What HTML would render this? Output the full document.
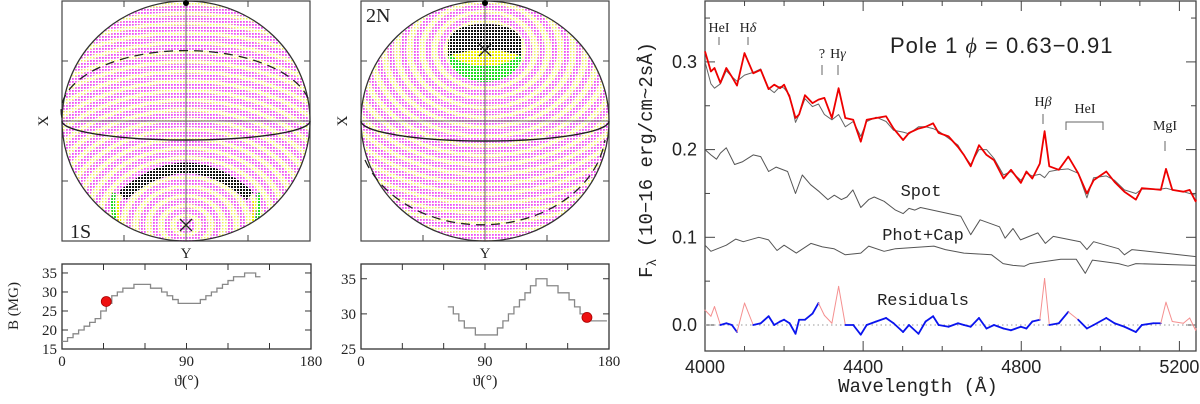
<!DOCTYPE html>
<html><head><meta charset="utf-8"><style>
html,body{margin:0;padding:0;background:#fff;width:1200px;height:404px;overflow:hidden;}
svg{display:block;overflow:hidden;}
text{font-family:"Liberation Serif",serif;fill:#222;}
.sans{font-family:"Liberation Sans",sans-serif;}
.mono{font-family:"Liberation Mono",monospace;}
</style></head><body>
<svg id="fig" width="1200" height="404" viewBox="0 0 1200 404" xmlns="http://www.w3.org/2000/svg">
<defs>
<pattern id="pm" width="3" height="3" patternUnits="userSpaceOnUse"><rect width="1.8" height="1.8" fill="#f050f0"/></pattern>
<pattern id="py" width="3" height="3" patternUnits="userSpaceOnUse"><rect width="1.5" height="1.5" fill="#f0f060"/></pattern>
<pattern id="pk" width="3" height="3" patternUnits="userSpaceOnUse"><rect width="2" height="2" fill="#111"/></pattern>
<pattern id="pg" width="3" height="3" patternUnits="userSpaceOnUse"><rect width="2" height="2" fill="#22dd22"/></pattern>
<pattern id="pyy" width="3" height="3" patternUnits="userSpaceOnUse"><rect width="2" height="2" fill="#eeee00"/></pattern>
<clipPath id="c1"><ellipse cx="186" cy="121" rx="124" ry="120"/></clipPath>
<clipPath id="c2"><ellipse cx="485" cy="121" rx="124" ry="120"/></clipPath>
</defs>
<g id="sph1"></g>
<g id="sph2"></g>
<g id="bplot1"></g>
<g id="bplot2"></g>
<g id="spec"></g>
</svg>
<script>
const NS="http://www.w3.org/2000/svg";
function mk(p,t,a,txt){const e=document.createElementNS(NS,t);for(const k in a)e.setAttribute(k,a[k]);if(txt!==undefined)e.textContent=txt;p.appendChild(e);return e;}

// ---------- field plot data ----------
const theta1=[0,4,8,12,16,20,24,28,32,36,40,44,48,52,56,60,64,68,72,76,80,84,88,92,96,100,104,108,112,116,120,124,128,132,136,140];
const field1=[17,18,19,20,21,22,23,25,27,29,30,31,31,32,32,32,31,31,30,29,28,27,27,27,27,28,29,30,31,32,33,34,34,35,35,34];
const theta2=[63,67,71,75,79,83,87,91,95,99,103,107,111,115,119,123,127,131,135,139,143,147,151,155,159,163,167,171,175];
const field2=[31,30,29,28,28,27,27,27,27,28,29,30,31,32,33,34,35,35,34,34,33,33,32,31,30,29,29,29,29];
const dot1=[32,27.5], dot2=[164,29.5];

// ---------- spectrum data ----------
const wave=[4000,4015,4024,4039,4054,4068,4081,4100,4122,4141,4161,4175,4190,4200,4214,4229,4238,4253,4272,4287,4302,4321,4338,4355,4375,4394,4409,4433,4458,4477,4501,4516,4540,4558,4577,4591,4616,4640,4655,4672,4693,4712,4731,4755,4774,4799,4813,4828,4847,4859,4871,4895,4919,4944,4966,4983,5015,5036,5061,5090,5105,5134,5153,5166,5182,5210,5226,5241,5250];
const observed=[0.312,0.289,0.293,0.276,0.293,0.283,0.273,0.310,0.287,0.291,0.269,0.274,0.270,0.274,0.260,0.236,0.240,0.262,0.253,0.257,0.259,0.236,0.270,0.236,0.234,0.209,0.234,0.236,0.238,0.224,0.211,0.219,0.224,0.226,0.230,0.219,0.215,0.203,0.194,0.181,0.205,0.194,0.188,0.167,0.177,0.162,0.175,0.167,0.184,0.221,0.181,0.177,0.192,0.173,0.150,0.165,0.175,0.163,0.152,0.143,0.156,0.155,0.154,0.178,0.154,0.152,0.154,0.141,0.143];
const model=[0.300,0.275,0.270,0.275,0.290,0.283,0.278,0.285,0.288,0.292,0.270,0.265,0.272,0.270,0.262,0.231,0.240,0.258,0.249,0.252,0.240,0.234,0.240,0.226,0.232,0.215,0.232,0.237,0.232,0.222,0.220,0.218,0.226,0.226,0.224,0.221,0.213,0.205,0.194,0.183,0.200,0.200,0.190,0.171,0.175,0.165,0.173,0.170,0.172,0.168,0.175,0.177,0.178,0.173,0.145,0.168,0.170,0.165,0.154,0.150,0.155,0.155,0.155,0.156,0.154,0.152,0.150,0.148,0.148];
const residual=[0.017,0.010,0.021,0.000,0.002,0.000,-0.008,0.025,0.000,0.002,0.010,0.000,0.004,0.006,0.002,-0.010,0.006,0.006,0.013,0.025,0.011,0.002,0.044,0.000,0.000,-0.011,0.000,0.004,0.008,0.002,-0.008,0.000,-0.010,0.004,0.010,0.000,-0.002,0.002,0.000,-0.002,0.008,-0.004,0.000,-0.004,-0.006,-0.002,-0.004,0.004,0.006,0.053,0.000,0.002,0.015,0.006,-0.004,0.000,0.008,0.002,-0.002,-0.008,0.000,0.002,0.002,0.026,0.004,0.002,0.008,-0.006,-0.004];
const emissionWindows=[[3990,4035],[4088,4115],[4280,4350],[4850,4870],[4910,4932],[5000,5020],[5155,5260]];
const spotWave=[4000,4015,4029,4039,4054,4075,4094,4122,4141,4161,4180,4209,4229,4246,4267,4289,4311,4327,4345,4359,4374,4394,4414,4428,4453,4482,4501,4516,4531,4545,4647,4672,4696,4745,4759,4779,4798,4842,4861,4881,4949,4966,4983,5046,5061,5080,5249];
const spotFlux=[0.200,0.194,0.189,0.196,0.202,0.183,0.186,0.194,0.192,0.175,0.180,0.175,0.150,0.171,0.160,0.152,0.143,0.148,0.143,0.146,0.154,0.134,0.143,0.146,0.141,0.131,0.127,0.133,0.131,0.134,0.124,0.103,0.120,0.112,0.099,0.110,0.097,0.105,0.093,0.101,0.095,0.086,0.095,0.087,0.080,0.086,0.078];
const photWave=[4000,4015,4054,4078,4097,4136,4161,4182,4200,4231,4268,4297,4326,4355,4394,4414,4453,4482,4579,4608,4655,4725,4754,4779,4808,4822,4900,4939,4962,4980,5046,5070,5090,5249];
const photFlux=[0.091,0.084,0.091,0.098,0.095,0.100,0.097,0.085,0.091,0.082,0.093,0.089,0.087,0.080,0.082,0.090,0.084,0.087,0.090,0.086,0.082,0.080,0.070,0.068,0.067,0.070,0.075,0.075,0.059,0.074,0.070,0.067,0.070,0.068];
const xTicks=[4000,4400,4800,5200], yTicks=[0.0,0.1,0.2,0.3];

// ---------- spheres ----------
function sphere(g,cx,clip,pole){
  const cy=121;
  mk(g,'rect',{x:cx-124,y:1,width:248,height:240,fill:'#fff',stroke:'#444','stroke-width':1.2});
  const cg=mk(g,'g',{'clip-path':'url(#'+clip+')'});
  mk(cg,'ellipse',{cx:cx,cy:cy,rx:124,ry:120,fill:'url(#py)'});
  const inside=(x,y)=>((x-cx)/127)**2+((y-cy)/123)**2<=1;
  for(let r=6;r<320;r+=12){
    let d='',pen=false;
    for(let a=0;a<=360;a+=1.5){
      const t=a*Math.PI/180,x=pole[0]+r*1.05*Math.cos(t),y=pole[1]+r*0.8*Math.sin(t);
      if(inside(x,y)){d+=(pen?'L':'M')+x.toFixed(1)+','+y.toFixed(1);pen=true;}else pen=false;
    }
    if(!d)continue;
    const ring=mk(cg,'path',{d:d,fill:'none',stroke:'url(#pm)','stroke-width':6});
    
    
  }
  return cg;
}
function frameDecor(g,cx,dashD,solidD,lab,labx){
  const cy=121;
  [cx-62,cx+62].forEach(x=>{mk(g,'line',{x1:x,y1:1,x2:x,y2:7,stroke:'#444'});mk(g,'line',{x1:x,y1:241,x2:x,y2:235,stroke:'#444'});});
  [61,181].forEach(y=>{mk(g,'line',{x1:cx-124,y1:y,x2:cx-118,y2:y,stroke:'#444'});mk(g,'line',{x1:cx+124,y1:y,x2:cx+118,y2:y,stroke:'#444'});});
  mk(g,'line',{x1:cx,y1:1,x2:cx,y2:241,stroke:'#666','stroke-width':1});
  mk(g,'line',{x1:cx-124,y1:cy,x2:cx+124,y2:cy,stroke:'#666','stroke-width':1});
  mk(g,'ellipse',{cx:cx,cy:cy,rx:124,ry:120,fill:'none',stroke:'#333','stroke-width':1.3});
  const sd=mk(g,'path',{d:solidD,fill:'none',stroke:'#222','stroke-width':1.4});
  
  const dd=mk(g,'path',{d:dashD,fill:'none',stroke:'#222','stroke-width':1.3,'stroke-dasharray':'9 6'});
  
  mk(g,'circle',{cx:cx,cy:3,r:3,fill:'#000'});
  const t=mk(g,'text',{x:labx,y:lab[1],'font-size':20},lab[0]);
  
  const xl=mk(g,'text',{x:0,y:0,'font-size':15,'text-anchor':'middle',transform:`translate(${cx-138},${cy}) rotate(-90)`},'X');
  
  const yl=mk(g,'text',{x:cx,y:258,'font-size':15,'text-anchor':'middle'},'Y');
  
}
function xmark(g,x,y){mk(g,'path',{d:`M${x-6},${y-6}L${x+6},${y+6}M${x+6},${y-6}L${x-6},${y+6}`,stroke:'#222','stroke-width':1.3});}

const s1=document.getElementById('sph1');
const cg1=sphere(s1,186,'c1',[186,225]);
mk(cg1,'path',{d:'M122,196 Q186,140 250,196',fill:'none',stroke:'#fff','stroke-width':11});
mk(cg1,'path',{d:'M122,196 Q186,140 250,196',fill:'none',stroke:'url(#pk)','stroke-width':11});
mk(cg1,'path',{d:'M114,193 Q110,215 122,236',fill:'none',stroke:'url(#pg)','stroke-width':4});
mk(cg1,'path',{d:'M118,200 Q116,218 126,238',fill:'none',stroke:'url(#pyy)','stroke-width':3});
mk(cg1,'path',{d:'M258,193 Q262,215 250,236',fill:'none',stroke:'url(#pg)','stroke-width':4});
mk(cg1,'path',{d:'M254,200 Q256,218 246,238',fill:'none',stroke:'url(#pyy)','stroke-width':3});
frameDecor(s1,186,'M62,118 A124,60 0 0 1 310,104','M62,121 A124,19 0 0 0 310,121',['1S',238],70);
xmark(s1,186,225);

const s2=document.getElementById('sph2');
const cg2=sphere(s2,485,'c2',[485,50]);
mk(cg2,'ellipse',{cx:485,cy:54,rx:37,ry:28,fill:'#fff'});
mk(cg2,'ellipse',{cx:485,cy:54,rx:37,ry:28,fill:'url(#pg)'});
mk(cg2,'ellipse',{cx:485,cy:47,rx:37,ry:19,fill:'#fff'});
mk(cg2,'ellipse',{cx:485,cy:47,rx:37,ry:19,fill:'url(#pyy)'});
mk(cg2,'path',{d:'M448,56 L448,42 Q452,24 485,24 Q518,24 522,42 L522,56 Q485,44 448,56Z',fill:'#fff'});
mk(cg2,'path',{d:'M448,56 L448,42 Q452,24 485,24 Q518,24 522,42 L522,56 Q485,44 448,56Z',fill:'url(#pk)'});
frameDecor(s2,485,'M365,160 A124,97 0 0 0 605,140','M361,121 A124,20 0 0 0 609,121',['2N',22],366);
xmark(s2,485,50);

// ---------- field plots ----------
function bplot(g,x0,x1,yTop,yBot,bmin,bmax,yt,th,bv,dot){
  const sx=t=>x0+(t/180)*(x1-x0), sy=b=>yBot-(b-bmin)/(bmax-bmin)*(yBot-yTop);
  mk(g,'rect',{x:x0,y:yTop,width:x1-x0,height:yBot-yTop,fill:'none',stroke:'#333','stroke-width':1.3});
  [30,60,90,120,150].forEach(t=>{mk(g,'line',{x1:sx(t),y1:yBot,x2:sx(t),y2:yBot-6,stroke:'#333'});mk(g,'line',{x1:sx(t),y1:yTop,x2:sx(t),y2:yTop+6,stroke:'#333'});});
  yt.forEach(b=>{mk(g,'line',{x1:x0,y1:sy(b),x2:x0+6,y2:sy(b),stroke:'#333'});mk(g,'line',{x1:x1,y1:sy(b),x2:x1-6,y2:sy(b),stroke:'#333'});
    const l=mk(g,'text',{x:x0-5,y:sy(b)+5,'font-size':15,'text-anchor':'end'},String(b));
    });
  [0,90,180].forEach(t=>{const l=mk(g,'text',{x:sx(t),y:yBot+17,'font-size':15,'text-anchor':'middle'},String(t));
    });
  let d='';
  for(let i=0;i<th.length;i++){const xa=sx(th[i]),xb=sx(i<th.length-1?th[i+1]:th[i]+3.5),y=sy(bv[i]);d+=(i?'L':'M')+xa+','+y+'L'+xb+','+y;}
  const p=mk(g,'path',{d:d,fill:'none',stroke:'#888','stroke-width':1.3});
  
  const c=mk(g,'circle',{cx:sx(dot[0]),cy:sy(dot[1]),r:5,fill:'#ee1111',stroke:'#aa0000','stroke-width':0.8});
  
  const xl=mk(g,'text',{x:(x0+x1)/2,y:386,'font-size':16,'text-anchor':'middle'},'ϑ(°)');
  
}
const b1=document.getElementById('bplot1');
bplot(b1,62,311,264,349,15,37.36,[15,20,25,30,35],theta1,field1,dot1);
const bt=mk(b1,'text',{x:0,y:0,'font-size':15,'text-anchor':'middle',transform:'translate(18,306) rotate(-90)'},'B  (MG)');

bplot(document.getElementById('bplot2'),361,609,264,349,25,37.1,[25,30,35],theta2,field2,dot2);

// ---------- spectrum ----------
const sp=document.getElementById('spec');
const L=705,R=1196,T=1,B=351;
const X=w=>L+(w-4000)*(R-L)/1242, Y=f=>325-f*877;
mk(sp,'rect',{x:L,y:T,width:R-L,height:B-T,fill:'none',stroke:'#444','stroke-width':1.3});
for(let w=4000;w<=5200;w+=100){const maj=w%400===0,len=maj?10:5;
  mk(sp,'line',{x1:X(w),y1:B,x2:X(w),y2:B-len,stroke:'#444'});mk(sp,'line',{x1:X(w),y1:T,x2:X(w),y2:T+len,stroke:'#444'});}
for(let k=0;k<=7;k++){const f=k*0.05,len=k%2===0?10:5;
  mk(sp,'line',{x1:L,y1:Y(f),x2:L+len,y2:Y(f),stroke:'#444'});mk(sp,'line',{x1:R,y1:Y(f),x2:R-len,y2:Y(f),stroke:'#444'});}
xTicks.forEach(w=>{const t=mk(sp,'text',{x:X(w),y:373,'font-size':18,'text-anchor':'middle',class:'sans'},String(w));
  });
yTicks.forEach(f=>{const t=mk(sp,'text',{x:697,y:Y(f)+6,'font-size':18,'text-anchor':'end',class:'sans'},f.toFixed(1));
  });
const xt=mk(sp,'text',{x:918,y:392,'font-size':19,'text-anchor':'middle',class:'mono'},'Wavelength (Å)');

const yt=mk(sp,'text',{x:0,y:0,'font-size':19,'text-anchor':'middle',class:'mono',transform:'translate(652,160) rotate(-90)'});
yt.innerHTML='F<tspan font-size="13" dy="4">λ</tspan><tspan dy="-4">  (10−16 erg/cm~2sÅ)</tspan>';


function line(ws,fs,col,w,name){let d='';ws.forEach((x,i)=>{d+=(i?'L':'M')+Math.min(X(x),R).toFixed(1)+','+Y(fs[i]).toFixed(1);});
  const p=mk(sp,'path',{d:d,fill:'none',stroke:col,'stroke-width':w,'stroke-linejoin':'round'});
  return p;}
mk(sp,'line',{x1:L,y1:Y(0),x2:R,y2:Y(0),stroke:'#999','stroke-width':1,'stroke-dasharray':'1.5 3'});
line(spotWave,spotFlux,'#555',1,'spot-spectrum');
line(photWave,photFlux,'#555',1,'phot-cap-spectrum');
line(wave,model,'#666',1,'model-spectrum');
line(wave,observed,'#ee0000',1.8,'observed-spectrum');
const inEm=w=>emissionWindows.some(r=>w>=r[0]&&w<=r[1]);
for(let i=0;i<wave.length-1;i++){
  const m=(wave[i]+wave[i+1])/2, pink=inEm(m);
  const s=mk(sp,'line',{x1:X(wave[i]),y1:Y(residual[i]),x2:Math.min(X(wave[i+1]),R),y2:Y(residual[i+1]),stroke:pink?'#f59090':'#0a14ee','stroke-width':pink?1:1.8,'stroke-linecap':'round'});
  
  
}
function ann(txt,x,y,t1,t2,fs){const t=mk(sp,'text',{x:x,y:y,'font-size':fs||14,'text-anchor':'middle'});t.innerHTML=txt;
  
  if(t1!==undefined)mk(sp,'line',{x1:x,y1:t1,x2:x,y2:t2,stroke:'#666'});}
ann('HeI',719,32,37,45);
ann('H<tspan font-style="italic">δ</tspan>',748,32,37,45);
ann('?',822,58,65,75);
ann('H<tspan font-style="italic">γ</tspan>',838,58,65,75);
ann('H<tspan font-style="italic">β</tspan>',1043,106,114,124);
ann('HeI',1085,113);
mk(sp,'path',{d:'M1066,130 L1066,122 L1103,122 L1103,130',fill:'none',stroke:'#666'});
ann('MgI',1165,130,141,151);
const ti=mk(sp,'text',{x:890,y:53,'font-size':22,class:'sans','letter-spacing':'1'});
ti.innerHTML='Pole  1  <tspan font-style="italic" font-family="Liberation Serif">ϕ</tspan> =  0.63−0.91';

[['Spot',921,196],['Phot+Cap',923,240],['Residuals',923,305]].forEach(a=>{const t=mk(sp,'text',{x:a[1],y:a[2],'font-size':17,'text-anchor':'middle',class:'mono'},a[0]);
  });
</script>
</body></html>
